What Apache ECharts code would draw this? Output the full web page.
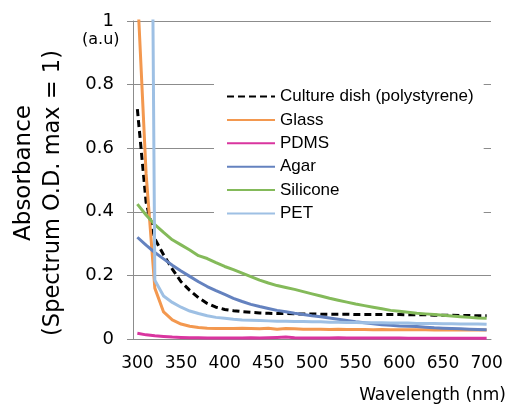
<!DOCTYPE html>
<html lang="en">
<head>
    <meta charset="UTF-8">
    <title>Absorbance spectra</title>
    <script src="https://cdn.jsdelivr.net/npm/echarts@6/dist/echarts.min.js"></script>
    <style>
        html, body { margin: 0; padding: 0; background: #fff; }
    </style>
</head>
<body>
<div id="main" style="width:509px; height:407px"></div>

<script type="text/javascript">
    // wavelength categories (nm), every 10 nm
    var wavelengths = ['300','310','320','330','340','350','360','370','380','390',
        '400','410','420','430','440','450','460','470','480','490',
        '500','510','520','530','540','550','560','570','580','590',
        '600','610','620','630','640','650','660','670','680','690','700'];

    var culture = [0.723, 0.43, 0.315, 0.265, 0.22, 0.18, 0.153, 0.13, 0.112, 0.1,
        0.093, 0.089, 0.086, 0.084, 0.082, 0.081, 0.08, 0.08, 0.079, 0.079,
        0.079, 0.078, 0.078, 0.078, 0.078, 0.077, 0.077, 0.077, 0.077, 0.077,
        0.077, 0.076, 0.076, 0.076, 0.075, 0.075, 0.075, 0.074, 0.074, 0.073, 0.073];

    var glass = [1.1, 0.52, 0.16, 0.085, 0.06, 0.047, 0.04, 0.036, 0.034, 0.033,
        0.033, 0.033, 0.034, 0.033, 0.032, 0.034, 0.031, 0.033, 0.032, 0.031,
        0.031, 0.031, 0.03, 0.031, 0.03, 0.03, 0.03, 0.029, 0.03, 0.029,
        0.029, 0.029, 0.029, 0.029, 0.028, 0.028, 0.028, 0.028, 0.028, 0.028, 0.028];

    var pdms = [0.018, 0.013, 0.01, 0.008, 0.006, 0.005, 0.004, 0.004, 0.003, 0.003,
        0.003, 0.003, 0.003, 0.004, 0.003, 0.004, 0.005, 0.006, 0.004, 0.003,
        0.003, 0.003, 0.003, 0.004, 0.003, 0.003, 0.003, 0.003, 0.003, 0.003,
        0.003, 0.002, 0.002, 0.002, 0.002, 0.002, 0.002, 0.002, 0.002, 0.002, 0.002];

    var agar = [0.32, 0.295, 0.272, 0.252, 0.232, 0.214, 0.197, 0.18, 0.165, 0.152,
        0.14, 0.128, 0.118, 0.109, 0.102, 0.096, 0.09, 0.086, 0.081, 0.077,
        0.073, 0.07, 0.066, 0.062, 0.058, 0.054, 0.051, 0.048, 0.045, 0.043,
        0.041, 0.04, 0.039, 0.037, 0.035, 0.034, 0.033, 0.032, 0.031, 0.03, 0.029];

    var silicone = [0.424, 0.39, 0.36, 0.335, 0.312, 0.296, 0.28, 0.262, 0.253, 0.24,
        0.228, 0.218, 0.207, 0.196, 0.185, 0.176, 0.168, 0.162, 0.156, 0.149,
        0.142, 0.135, 0.128, 0.122, 0.116, 0.11, 0.105, 0.1, 0.095, 0.09,
        0.087, 0.084, 0.081, 0.079, 0.077, 0.075, 0.072, 0.07, 0.068, 0.066, 0.065];

    var pet = [4, 4, 0.185, 0.135, 0.115, 0.1, 0.088, 0.08, 0.073, 0.068,
        0.065, 0.062, 0.06, 0.059, 0.058, 0.057, 0.056, 0.056, 0.055, 0.055,
        0.054, 0.054, 0.053, 0.053, 0.052, 0.052, 0.051, 0.051, 0.051, 0.05,
        0.05, 0.05, 0.049, 0.049, 0.049, 0.048, 0.048, 0.047, 0.047, 0.047, 0.046];

    var seriesNames = ['Culture dish (polystyrene)', 'Glass', 'PDMS', 'Agar', 'Silicone', 'PET'];
    var seriesData = [culture, glass, pdms, agar, silicone, pet];
    var seriesColors = ['#000000', '#F3984F', '#D9359F', '#6482BF', '#84BA5A', '#9EC0E4'];

    var axisFont = 'DejaVu Sans';
    var gray = '#8c8c8c';

    var myChart = echarts.init(document.getElementById('main'));

    var series = seriesNames.map(function (name, i) {
        return {
            name: name,
            type: 'line',
            data: seriesData[i],
            symbol: 'none',
            showSymbol: false,
            clip: true,
            lineStyle: {
                color: seriesColors[i],
                width: 3,
                type: i === 0 ? [7, 4] : 'solid'
            },
            itemStyle: { color: seriesColors[i] }
        };
    });

    var option = {
        animation: false,
        backgroundColor: '#fff',
        grid: { left: 133, right: 16, top: 21, bottom: 68 },
        legend: {
            orient: 'vertical',
            left: 214,
            top: 80,
            padding: [8, 10, 8, 12],
            backgroundColor: '#fff',
            itemWidth: 48,
            itemHeight: 4,
            itemGap: 6.4,
            itemStyle: { opacity: 0 },
            textStyle: { fontFamily: 'Liberation Sans', fontSize: 17, lineHeight: 17, color: '#000' },
            data: seriesNames
        },
        xAxis: {
            type: 'category',
            data: wavelengths,
            boundaryGap: true,
            name: 'Wavelength (nm)',
            nameLocation: 'end',
            nameGap: 0,
            nameTextStyle: {
                fontFamily: axisFont, fontSize: 17, color: '#000',
                align: 'right', verticalAlign: 'top', padding: [48, -15, 0, 0]
            },
            axisLine: { lineStyle: { color: gray, width: 1 } },
            axisTick: { interval: 4, length: 5, lineStyle: { color: gray } },
            axisLabel: {
                interval: 4, margin: 16,
                fontFamily: axisFont, fontSize: 17, color: '#000'
            },
            splitLine: { show: false }
        },
        yAxis: {
            type: 'value',
            min: 0,
            max: 1,
            interval: 0.2,
            axisLine: { show: true, lineStyle: { color: gray, width: 1 } },
            axisTick: { show: true, length: 6, lineStyle: { color: gray } },
            axisLabel: {
                margin: 19,
                fontFamily: axisFont, fontSize: 18, color: '#000'
            },
            splitLine: { show: true, lineStyle: { color: gray, width: 1 } }
        },
        graphic: [
            {
                type: 'text', left: 82, top: 32,
                style: { text: '(a.u)', fontFamily: axisFont, fontSize: 16, fill: '#000' }
            },
            {
                type: 'text', x: 24, y: 173, rotation: Math.PI / 2,
                style: {
                    text: 'Absorbance', fontFamily: axisFont, fontSize: 23, fill: '#000',
                    align: 'center', verticalAlign: 'middle'
                }
            },
            {
                type: 'text', x: 53, y: 193, rotation: Math.PI / 2,
                style: {
                    text: '(Spectrum O.D. max = 1)', fontFamily: axisFont, fontSize: 22.5, fill: '#000',
                    align: 'center', verticalAlign: 'middle'
                }
            }
        ],
        series: series
    };

    myChart.setOption(option);
</script>
</body>
</html>
